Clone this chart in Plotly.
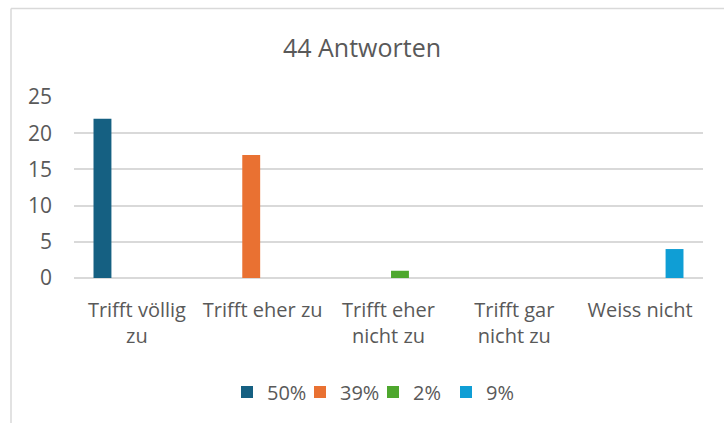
import plotly.graph_objects as go

categories = ["Trifft völlig<br>zu", "Trifft eher zu", "Trifft eher<br>nicht zu", "Trifft gar<br>nicht zu", "Weiss nicht"]
series_names = ["50%", "39%", "2%", "9%"]
s_50 = [22, None, None, None, None]
s_39 = [None, 17, None, None, None]
s_2 = [None, None, 1, None, None]
s_9 = [None, None, None, None, 4]
colors = ["#156082", "#E97132", "#4EA72E", "#0F9ED5"]
y_ticks = [0, 5, 10, 15, 20, 25]

W, H = 724, 423
L, R, T, B = 74, 21, 97, 145
FONT = "Open Sans"
GREY = "#595959"
GRID = "#D9D9D9"

fig = go.Figure()
for name, vals, col in zip(series_names, [s_50, s_39, s_2, s_9], colors):
    fig.add_trace(go.Bar(x=categories, y=vals, name=name, marker_color=col,
                         marker_line_width=0))

pw, ph = W - L - R, H - T - B
def px_to_paper_x(px):
    return (px - L) / pw
def px_to_paper_y(py):
    return (H - B - py) / ph

fig.update_layout(
    width=W, height=H, autosize=False,
    margin=dict(l=L, r=R, t=T, b=B),
    paper_bgcolor="white", plot_bgcolor="white",
    font=dict(family=FONT, color=GREY, size=20),
    title=dict(text="44 Antworten", x=0.5, xanchor="center", xref="container",
               y=1 - 48 / H, yanchor="middle", yref="container",
               font=dict(size=25, color=GREY, family=FONT)),
    barmode="group", bargap=0.27, bargroupgap=0.22,
    showlegend=True,
    legend=dict(orientation="h", x=px_to_paper_x(373), xanchor="center",
                y=px_to_paper_y(392), yanchor="middle",
                font=dict(size=20, color=GREY, family=FONT),
                entrywidth=28, entrywidthmode="pixels", traceorder="normal"),
    xaxis=dict(type="category", showgrid=False, showline=False, zeroline=False,
               ticks="", tickfont=dict(size=20, color=GREY), ticklabelstandoff=18,
               tickangle=0),
    yaxis=dict(range=[0, 25], tickvals=y_ticks, showgrid=True, gridcolor=GRID,
               gridwidth=1.5, zeroline=True, zerolinecolor=GRID, zerolinewidth=1.5,
               showline=False, ticks="", tickfont=dict(size=21, color=GREY),
               ticklabelstandoff=21),
    shapes=[
        dict(type="line", xref="paper", yref="paper",
             x0=px_to_paper_x(11), x1=px_to_paper_x(W + 5),
             y0=px_to_paper_y(8.5), y1=px_to_paper_y(8.5),
             line=dict(color=GRID, width=1.5), layer="below"),
        dict(type="line", xref="paper", yref="paper",
             x0=px_to_paper_x(11), x1=px_to_paper_x(11),
             y0=px_to_paper_y(8.5), y1=px_to_paper_y(H + 5),
             line=dict(color=GRID, width=1.5), layer="below"),
    ],
)

fig.write_html("out.html", config={"displayModeBar": False},
               post_script="document.body.style.margin='0';document.body.style.overflow='hidden';")
